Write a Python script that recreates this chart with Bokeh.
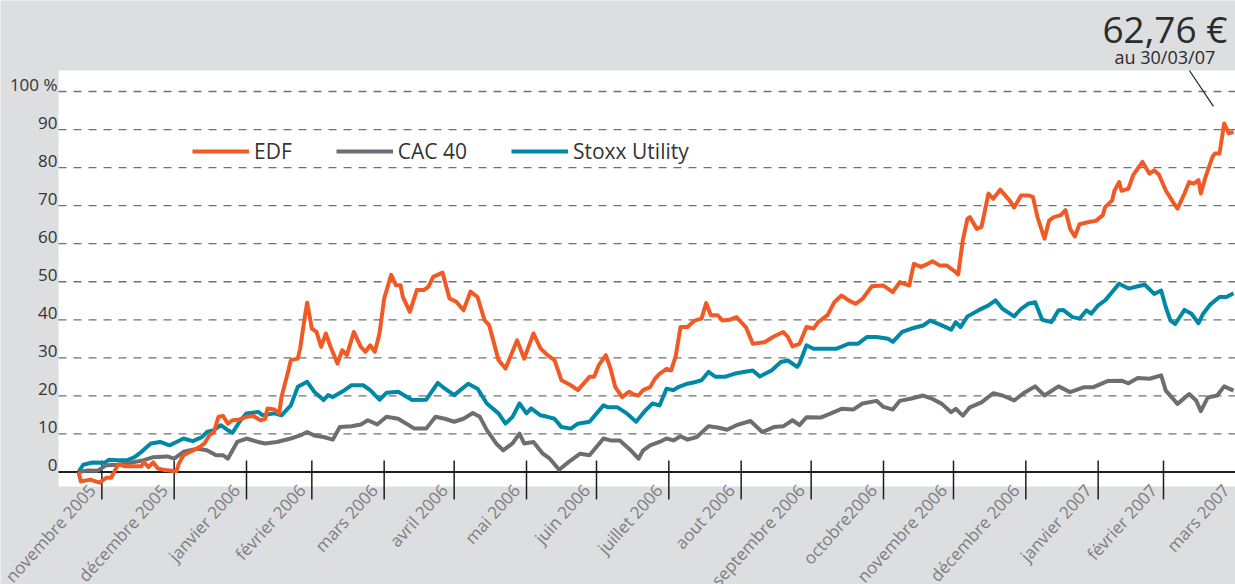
from datetime import date
from bokeh.plotting import figure
from bokeh.models import (Label, LabelSet, Legend, LegendItem, Range1d, ColumnDataSource,
                          BoxAnnotation)
from bokeh.embed import file_html
from bokeh.resources import INLINE
from bokeh.core.properties import value

# ---------------- data ----------------
START = date(2005, 11, 21)  # first quotation of EDF (day 0)

month_labels = ["novembre 2005", "décembre 2005", "janvier 2006", "février 2006",
                "mars 2006", "avril 2006", "mai 2006", "juin 2006", "juillet 2006",
                "aout 2006", "septembre 2006", "octobre2006", "novembre 2006",
                "décembre 2006", "janvier 2007", "février 2007", "mars 2007"]
month_ends = [date(2005, 12, 1), date(2006, 1, 1), date(2006, 2, 1), date(2006, 3, 1),
              date(2006, 4, 1), date(2006, 5, 1), date(2006, 6, 1), date(2006, 7, 1),
              date(2006, 8, 1), date(2006, 9, 1), date(2006, 10, 1), date(2006, 11, 1),
              date(2006, 12, 1), date(2007, 1, 1), date(2007, 2, 1), date(2007, 3, 1),
              date(2007, 4, 1)]

y_values = [0, 10, 20, 30, 40, 50, 60, 70, 80, 90, 100]
y_labels = ["0", "10", "20", "30", "40", "50", "60", "70", "80", "90", "100 %"]

series_names = ["EDF", "CAC 40", "Stoxx Utility"]

edf_day = [0, 1, 5, 9, 12, 14, 17, 20, 27, 28,
           30, 32, 34, 37, 42, 43, 45, 48, 52, 54,
           56, 58, 60, 62, 64, 66, 69, 72, 75, 78,
           80, 81, 84, 86, 87, 90, 91, 94, 95, 97,
           98, 100, 102, 104, 106, 108, 111, 113, 115, 118,
           121, 123, 125, 127, 129, 131, 134, 136, 138, 139,
           142, 145, 148, 150, 152, 156, 159, 162, 165, 168,
           171, 174, 176, 180, 183, 188, 191, 195, 198, 201,
           204, 207, 211, 214, 219, 221, 223, 226, 228, 230,
           233, 236, 238, 240, 242, 245, 247, 249, 252, 254,
           256, 258, 261, 264, 267, 269, 271, 274, 276, 279,
           282, 286, 289, 294, 298, 302, 304, 306, 309, 312,
           315, 317, 321, 324, 327, 330, 333, 336, 340, 345,
           349, 352, 356, 358, 361, 364, 366, 369, 372, 375,
           377, 379, 381, 382, 385, 387, 390, 392, 395, 399,
           401, 404, 407, 409, 411, 414, 416, 418, 421, 423,
           425, 427, 429, 433, 436, 439, 440, 443, 444, 446,
           447, 450, 452, 456, 459, 461, 463, 466, 469, 471,
           474, 476, 478, 480, 481, 483, 486, 487, 489, 491,
           493, 495]
edf_val = [0, -2.5, -2.0, -2.8, -1.5, -1.5, 2.0, 1.5, 1.5, 2.6,
           1.3, 2.5, 0.9, 0.5, 0.2, 2.2, 4.4, 5.3, 6.6, 7.5,
           9.6, 10.5, 14.5, 14.7, 12.7, 13.6, 13.8, 14.5, 14.7, 13.6,
           14.0, 16.7, 16.4, 15.4, 19.7, 26.8, 29.4, 29.8, 32.5, 40.8,
           44.5, 37.7, 36.8, 32.9, 36.4, 32.9, 28.5, 32.0, 30.7, 36.8,
           32.9, 31.6, 33.3, 31.6, 36.4, 45.6, 51.8, 49.1, 49.1, 46.0,
           42.1, 47.8, 47.8, 48.7, 51.3, 52.4, 45.6, 44.7, 42.5, 47.4,
           46.0, 39.9, 38.6, 29.4, 27.2, 34.6, 29.8, 36.4, 32.5, 30.7,
           29.4, 24.1, 22.8, 21.5, 25.0, 25.0, 28.1, 30.7, 27.2, 22.4,
           19.7, 21.1, 20.4, 20.1, 21.5, 22.3, 24.5, 25.8, 27.1, 26.7,
           30.6, 38.1, 38.1, 39.8, 40.3, 44.4, 41.2, 41.2, 39.8, 40.0,
           40.7, 38.1, 33.7, 34.1, 35.6, 36.8, 35.5, 33.0, 33.7, 38.1,
           37.7, 39.4, 41.2, 44.7, 46.4, 45.1, 44.2, 45.5, 48.8, 49.0,
           47.3, 49.9, 49.0, 54.7, 53.9, 54.7, 55.4, 54.3, 54.3, 53.0,
           51.9, 60.9, 66.6, 67.0, 63.9, 64.4, 73.2, 71.8, 74.2, 71.4,
           69.5, 72.7, 72.7, 72.3, 67.0, 61.3, 66.1, 67.0, 67.5, 68.8,
           63.9, 61.9, 65.1, 65.7, 66.0, 67.5, 69.6, 71.4, 74.0, 76.2,
           73.9, 74.5, 78.0, 81.5, 78.4, 79.3, 78.2, 74.0, 71.0, 69.2,
           73.2, 76.2, 75.8, 76.7, 73.2, 77.5, 82.8, 83.7, 83.7, 91.6,
           89.0, 89.4]

stoxx_day = [0, 2, 6, 11, 13, 17, 21, 24, 27, 31,
             35, 39, 42, 45, 49, 53, 55, 58, 61, 64,
             66, 69, 72, 77, 79, 84, 87, 91, 94, 98,
             101, 105, 107, 109, 114, 117, 122, 125, 129, 132,
             137, 143, 149, 154, 156, 161, 167, 171, 175, 180,
             183, 186, 189, 192, 194, 198, 201, 204, 207, 211,
             214, 219, 225, 227, 231, 235, 239, 243, 246, 249,
             252, 255, 257, 261, 264, 267, 270, 273, 277, 281,
             285, 289, 292, 297, 301, 304, 308, 309, 312, 315,
             319, 325, 330, 334, 338, 342, 347, 349, 353, 357,
             362, 365, 369, 374, 376, 378, 381, 386, 390, 393,
             396, 401, 404, 407, 410, 413, 417, 420, 422, 426,
             429, 432, 434, 437, 440, 443, 446, 450, 454, 457,
             461, 464, 466, 468, 470, 474, 477, 480, 482, 485,
             489, 492, 495]
stoxx_val = [0, 1.9, 2.5, 2.4, 3.2, 3.1, 3.1, 3.9, 5.3, 7.5,
             7.9, 7.0, 7.9, 8.8, 8.1, 9.2, 10.5, 11.0, 12.3, 11.0,
             10.3, 13.2, 15.4, 15.8, 14.9, 15.4, 14.9, 17.5, 22.4, 23.7,
             21.1, 18.9, 20.2, 19.7, 21.5, 22.8, 22.8, 21.5, 19.0, 20.8,
             21.1, 18.9, 19.0, 23.4, 22.4, 20.2, 23.2, 21.9, 18.0, 15.4,
             12.7, 14.5, 18.0, 15.4, 16.7, 14.9, 14.5, 14.0, 11.8, 11.4,
             12.7, 13.2, 17.5, 17.0, 17.0, 15.4, 13.2, 16.2, 18.0, 17.5,
             21.9, 21.5, 22.3, 23.2, 23.6, 24.1, 26.3, 25.0, 25.0, 25.8,
             26.3, 26.7, 25.1, 26.7, 28.9, 29.3, 27.6, 28.5, 33.3, 32.4,
             32.4, 32.4, 33.7, 33.7, 35.5, 35.5, 35.0, 34.2, 36.8, 37.7,
             38.5, 39.8, 38.8, 37.4, 39.4, 38.1, 40.9, 42.6, 43.8, 45.1,
             42.9, 40.9, 42.9, 44.2, 44.6, 40.0, 39.4, 42.5, 42.6, 40.7,
             40.3, 42.5, 41.6, 43.8, 45.1, 47.3, 49.5, 48.2, 48.8, 49.2,
             46.8, 47.7, 43.3, 39.8, 38.9, 42.6, 41.6, 39.1, 41.6, 44.0,
             46.0, 46.0, 47.0]

cac_day = [0, 4, 8, 12, 17, 22, 28, 32, 38, 41,
           45, 51, 55, 59, 62, 64, 68, 72, 77, 80,
           85, 91, 95, 98, 101, 105, 109, 112, 117, 121,
           124, 128, 132, 137, 144, 149, 153, 157, 161, 165,
           169, 172, 175, 179, 182, 186, 189, 191, 195, 199,
           202, 206, 210, 215, 219, 225, 228, 232, 237, 240,
           242, 245, 249, 252, 255, 258, 261, 265, 270, 274,
           278, 282, 288, 293, 298, 302, 306, 309, 312, 318,
           322, 327, 332, 336, 342, 345, 349, 352, 357, 362,
           366, 370, 374, 376, 379, 382, 387, 392, 396, 401,
           405, 410, 414, 420, 425, 431, 435, 441, 447, 450,
           454, 459, 464, 466, 471, 476, 479, 481, 484, 488,
           491, 495]
cac_val = [0, 0.4, 0.3, 1.8, 1.9, 2.4, 3.1, 3.9, 4.1, 3.5,
           5.3, 6.1, 5.7, 4.4, 4.4, 3.5, 7.9, 8.8, 7.9, 7.5,
           7.9, 8.8, 9.6, 10.5, 9.6, 9.2, 8.5, 11.8, 12.0, 12.5,
           13.6, 12.5, 14.5, 14.0, 11.4, 11.4, 14.5, 14.0, 13.2, 14.0,
           15.5, 14.5, 11.0, 7.5, 5.7, 7.5, 10.1, 7.5, 7.9, 4.8,
           3.5, 0.6, 2.6, 4.8, 4.4, 8.8, 8.3, 8.3, 5.5, 3.5,
           5.7, 7.0, 7.9, 8.8, 8.3, 9.4, 8.5, 9.2, 12.0, 11.7,
           11.1, 12.3, 13.4, 10.5, 11.8, 12.0, 13.6, 12.3, 14.4, 14.3,
           15.3, 16.6, 16.4, 18.0, 18.7, 17.1, 16.4, 18.7, 19.3, 20.1,
           19.2, 17.9, 15.7, 16.6, 14.8, 17.0, 18.3, 20.7, 20.1, 18.8,
           20.7, 22.5, 20.1, 22.5, 21.0, 22.3, 22.3, 23.9, 24.0, 23.3,
           24.7, 24.5, 25.4, 21.4, 17.9, 20.5, 18.8, 16.0, 19.6, 20.1,
           22.5, 21.4]

price_text = "62,76 €"
price_date_text = "au 30/03/07"

assert len(edf_day) == len(edf_val)
assert len(stoxx_day) == len(stoxx_val)
assert len(cac_day) == len(cac_val)

# ---------------- style / geometry ----------------
FONT = "Open Sans"
BG = "#dddee0"
ORANGE = "#f15a24"
GREY = "#6d6e71"
TEAL = "#0089a6"
DARK = "#333333"

tick_days = [(d - START).days for d in month_ends]

# the whole canvas is the plot frame; the white panel is drawn inside it
X0, X1 = -33.43, 495.86        # visible day range
Y0, Y1 = -29.57, 123.92        # visible value range
PANEL_L, PANEL_B, PANEL_T = -8.57, -3.81, 105.52   # white panel edges (data units)

p = figure(width=1235, height=584, output_backend="svg", toolbar_location=None,
           x_range=Range1d(X0, X1), y_range=Range1d(Y0, Y1),
           x_axis_location=None, y_axis_location=None,
           min_border=0, min_border_left=0, min_border_right=0,
           min_border_top=0, min_border_bottom=0,
           background_fill_color=BG, border_fill_color=BG, outline_line_color=None)
p.grid.visible = False

p.add_layout(BoxAnnotation(left=PANEL_L, right=X1, bottom=PANEL_B, top=PANEL_T,
                           fill_color="white", fill_alpha=1.0, line_color=None,
                           level="underlay"))

# dashed horizontal grid lines (not at 0)
grid_y = y_values[1:]
p.segment(x0=[PANEL_L] * len(grid_y), y0=grid_y, x1=[X1] * len(grid_y), y1=grid_y,
          line_color="#707070", line_width=1.3, line_dash="8 7")

# zero line and month ticks
p.segment(x0=[PANEL_L], y0=[y_values[0]], x1=[X1], y1=[y_values[0]],
          line_color="#1e1e1e", line_width=2)
p.segment(x0=tick_days, y0=[3.0] * len(tick_days), x1=tick_days, y1=[-7.2] * len(tick_days),
          line_color="#1e1e1e", line_width=1.5)

r_stoxx = p.line(stoxx_day, stoxx_val, line_color=TEAL, line_width=4, line_join="round")
r_cac = p.line(cac_day, cac_val, line_color=GREY, line_width=4, line_join="round")
r_edf = p.line(edf_day, edf_val, line_color=ORANGE, line_width=4, line_join="round")

legend = Legend(items=[LegendItem(label=series_names[0], renderers=[r_edf]),
                       LegendItem(label=series_names[1], renderers=[r_cac]),
                       LegendItem(label=series_names[2], renderers=[r_stoxx])],
                orientation="horizontal", location=(192, 419),
                glyph_width=57, glyph_height=24, label_height=24,
                label_standoff=5, spacing=44, padding=0, margin=0,
                border_line_color=None, background_fill_alpha=0,
                label_text_font=FONT, label_text_font_size="21px",
                label_text_color=DARK)
p.add_layout(legend)

# x tick labels (rotated, ending just left of the month boundary tick)
xsrc = ColumnDataSource(dict(x=tick_days, y=[-3.9] * len(tick_days), text=month_labels))
p.add_layout(LabelSet(x="x", y="y", text="text", source=xsrc, angle=48, angle_units="deg",
                      x_offset=-10, text_align="right", text_baseline="middle",
                      text_font=value(FONT), text_font_size="17px", text_color="#7c7d80"))

# y tick labels (sitting on their grid line)
ysrc = ColumnDataSource(dict(x=[PANEL_L] * len(y_values), y=y_values, text=y_labels))
p.add_layout(LabelSet(x="x", y="y", text="text", source=ysrc, x_offset=-1, y_offset=1,
                      text_align="right", text_baseline="alphabetic",
                      text_font=value(FONT), text_font_size="17px", text_color=DARK))

# price annotation
p.add_layout(Label(x=465.6, y=116.5, text=price_text, text_align="center",
                   text_baseline="alphabetic", text_font=FONT, text_font_size="37px",
                   text_color="#2b2b2b"))
p.add_layout(Label(x=465.6, y=109.2, text=price_date_text, text_align="center",
                   text_baseline="alphabetic", text_font=FONT, text_font_size="18px",
                   text_color="#2b2b2b"))
p.segment(x0=[476.1], y0=[PANEL_T], x1=[486.4], y1=[96.1], line_color="#222222",
          line_width=1.2)

open("out.html", "w").write(file_html(p, INLINE))
